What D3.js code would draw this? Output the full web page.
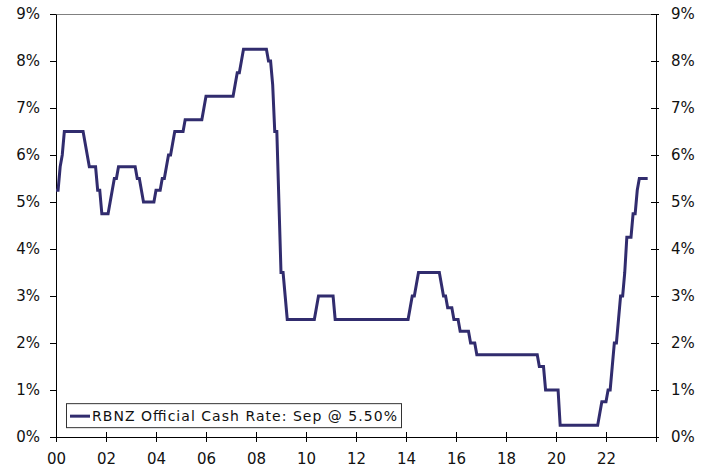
<!DOCTYPE html>
<html>
<head>
<meta charset="utf-8">
<script src="https://cdn.jsdelivr.net/npm/d3@7"></script>
<style>
  body { margin: 0; background: #fff; }
  svg text { font-family: "DejaVu Sans", Verdana, sans-serif; fill: #111; }
</style>
</head>
<body>
<div id="chart"></div>
<script>
// Données : taux mensuel (fin de mois), une ligne par année
const years = [2000, 2001, 2002, 2003, 2004, 2005, 2006, 2007, 2008, 2009, 2010, 2011,
               2012, 2013, 2014, 2015, 2016, 2017, 2018, 2019, 2020, 2021, 2022, 2023];
const rates = [
  [5.25, 5.25, 5.75, 6.0, 6.5, 6.5, 6.5, 6.5, 6.5, 6.5, 6.5, 6.5],
  [6.5, 6.5, 6.25, 6.0, 5.75, 5.75, 5.75, 5.75, 5.25, 5.25, 4.75, 4.75],
  [4.75, 4.75, 5.0, 5.25, 5.5, 5.5, 5.75, 5.75, 5.75, 5.75, 5.75, 5.75],
  [5.75, 5.75, 5.75, 5.5, 5.5, 5.25, 5.0, 5.0, 5.0, 5.0, 5.0, 5.0],
  [5.25, 5.25, 5.25, 5.5, 5.5, 5.75, 6.0, 6.0, 6.25, 6.5, 6.5, 6.5],
  [6.5, 6.5, 6.75, 6.75, 6.75, 6.75, 6.75, 6.75, 6.75, 6.75, 6.75, 7.0],
  [7.25, 7.25, 7.25, 7.25, 7.25, 7.25, 7.25, 7.25, 7.25, 7.25, 7.25, 7.25],
  [7.25, 7.25, 7.5, 7.75, 7.75, 8.0, 8.25, 8.25, 8.25, 8.25, 8.25, 8.25],
  [8.25, 8.25, 8.25, 8.25, 8.25, 8.25, 8.0, 8.0, 7.5, 6.5, 6.5, 5.0],
  [3.5, 3.5, 3.0, 2.5, 2.5, 2.5, 2.5, 2.5, 2.5, 2.5, 2.5, 2.5],
  [2.5, 2.5, 2.5, 2.5, 2.5, 2.75, 3.0, 3.0, 3.0, 3.0, 3.0, 3.0],
  [3.0, 3.0, 2.5, 2.5, 2.5, 2.5, 2.5, 2.5, 2.5, 2.5, 2.5, 2.5],
  [2.5, 2.5, 2.5, 2.5, 2.5, 2.5, 2.5, 2.5, 2.5, 2.5, 2.5, 2.5],
  [2.5, 2.5, 2.5, 2.5, 2.5, 2.5, 2.5, 2.5, 2.5, 2.5, 2.5, 2.5],
  [2.5, 2.5, 2.75, 3.0, 3.0, 3.25, 3.5, 3.5, 3.5, 3.5, 3.5, 3.5],
  [3.5, 3.5, 3.5, 3.5, 3.5, 3.25, 3.0, 3.0, 2.75, 2.75, 2.75, 2.5],
  [2.5, 2.5, 2.25, 2.25, 2.25, 2.25, 2.25, 2.0, 2.0, 2.0, 1.75, 1.75],
  [1.75, 1.75, 1.75, 1.75, 1.75, 1.75, 1.75, 1.75, 1.75, 1.75, 1.75, 1.75],
  [1.75, 1.75, 1.75, 1.75, 1.75, 1.75, 1.75, 1.75, 1.75, 1.75, 1.75, 1.75],
  [1.75, 1.75, 1.75, 1.75, 1.5, 1.5, 1.5, 1.0, 1.0, 1.0, 1.0, 1.0],
  [1.0, 1.0, 0.25, 0.25, 0.25, 0.25, 0.25, 0.25, 0.25, 0.25, 0.25, 0.25],
  [0.25, 0.25, 0.25, 0.25, 0.25, 0.25, 0.25, 0.25, 0.25, 0.5, 0.75, 0.75],
  [0.75, 1.0, 1.0, 1.5, 2.0, 2.0, 2.5, 3.0, 3.0, 3.5, 4.25, 4.25],
  [4.25, 4.75, 4.75, 5.25, 5.5, 5.5, 5.5, 5.5, 5.5]
];
const xTickYears = [2000, 2002, 2004, 2006, 2008, 2010, 2012, 2014, 2016, 2018, 2020, 2022, 2024];
const xTickLabels = ["00", "02", "04", "06", "08", "10", "12", "14", "16", "18", "20", "22", ""];
const yTicks = [0, 1, 2, 3, 4, 5, 6, 7, 8, 9];
const legendLabel = "RBNZ Official Cash Rate: Sep @ 5.50%";

const lineColor = "#312c6e";

const margin = {top: 14, right: 57, bottom: 32, left: 56},
      width = 713 - margin.left - margin.right,
      height = 469 - margin.top - margin.bottom;

const svg = d3.select("#chart")
    .append("svg")
    .attr("width", 713)
    .attr("height", 469)
    .append("g")
    .attr("transform", `translate(${margin.left},${margin.top})`);

// Série mensuelle
const data = [];
years.forEach((yr, i) => {
    rates[i].forEach((v, m) => data.push({t: yr + m / 12, v: v}));
});

const x = d3.scaleLinear().domain([2000, 2024]).range([0, width]);
const y = d3.scaleLinear().domain([0, 9]).range([height, 0]);

// Bordure du haut (grise)
svg.append("line")
    .attr("x1", 0).attr("x2", width)
    .attr("y1", 0.5).attr("y2", 0.5)
    .attr("stroke", "#808080");

// Axe X
const xAxis = svg.append("g")
    .attr("transform", `translate(0,${height})`)
    .call(d3.axisBottom(x).tickValues(xTickYears)
        .tickFormat((d, i) => xTickLabels[i])
        .tickSizeInner(5).tickSizeOuter(0).tickPadding(11));
xAxis.selectAll(".tick line").attr("y1", -5).attr("stroke", "#000");
xAxis.select(".domain").attr("stroke", "#000");
xAxis.selectAll("text").style("font-size", "15px");

// Axe Y gauche
const yLeft = svg.append("g")
    .call(d3.axisLeft(y).tickValues(yTicks).tickFormat(d => d + "%")
        .tickSizeInner(6).tickSizeOuter(0).tickPadding(10));
yLeft.selectAll(".tick line").attr("stroke", "#000");
yLeft.select(".domain").attr("stroke", "#000");
yLeft.selectAll("text").style("font-size", "15px");

// Axe Y droit
const yRight = svg.append("g")
    .attr("transform", `translate(${width},0)`)
    .call(d3.axisRight(y).tickValues(yTicks).tickFormat(d => d + "%")
        .tickSizeInner(3).tickSizeOuter(0).tickPadding(12));
yRight.selectAll(".tick line").attr("x1", -5).attr("stroke", "#000");
yRight.select(".domain").attr("stroke", "#000");
yRight.selectAll("text").style("font-size", "15px");

// Ligne du taux
svg.append("path")
    .datum(data)
    .attr("fill", "none")
    .attr("stroke", lineColor)
    .attr("stroke-width", 3)
    .attr("stroke-linejoin", "miter")
    .attr("d", d3.line().x(d => x(d.t)).y(d => y(d.v)));

// Légende
const legend = svg.append("g").attr("transform", `translate(${x(2000.4)},${y(0.72)})`);
legend.append("rect")
    .attr("x", 0.5).attr("y", 0.5)
    .attr("width", 335).attr("height", 24)
    .attr("fill", "#fff")
    .attr("stroke", "#333");
legend.append("text")
    .attr("x", 26).attr("y", 18)
    .attr("textLength", 305)
    .attr("lengthAdjust", "spacing")
    .style("font-size", "14px")
    .text(legendLabel);
legend.append("line")
    .attr("x1", 4).attr("x2", 24)
    .attr("y1", 13).attr("y2", 13)
    .attr("stroke", lineColor)
    .attr("stroke-width", 3);
</script>
</body>
</html>
